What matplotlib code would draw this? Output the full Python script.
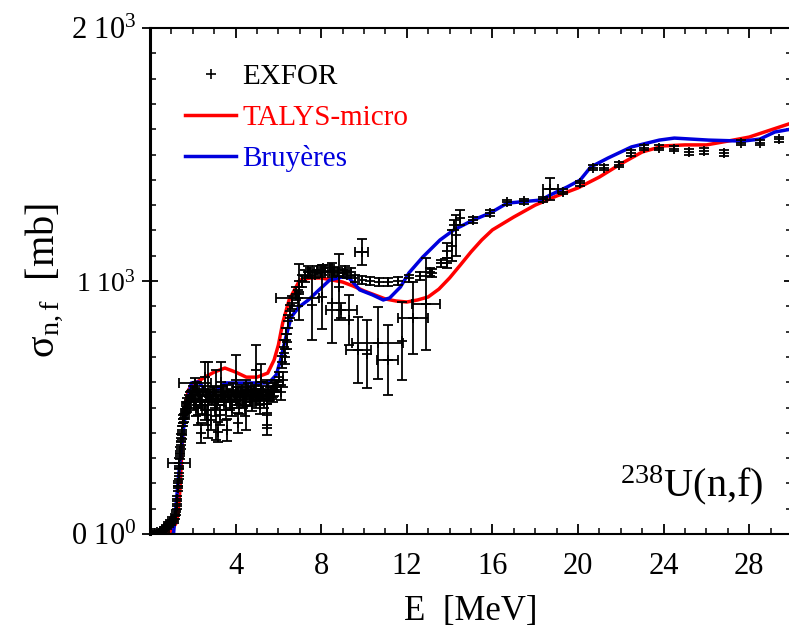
import matplotlib
matplotlib.use('Agg')
import matplotlib.pyplot as plt
from matplotlib.ticker import MultipleLocator, FixedLocator, FuncFormatter
from matplotlib.lines import Line2D

# TALYS-micro calculation
talys_e = [0.9, 1.2, 1.3, 1.4, 1.5, 1.6, 1.8, 2.0, 2.5, 3.0, 3.5, 4.0, 4.5, 5.0, 5.5, 5.8,
           6.0, 6.2, 6.5, 7.0, 7.5, 8.0, 8.5, 9.0, 9.5, 10, 10.5, 11, 11.5, 12, 12.5, 13,
           13.5, 14, 14.5, 15, 15.5, 16, 17, 18, 19, 20, 21, 22, 23, 24, 25, 26, 27, 28, 29, 30]
talys_s = [5, 40, 75, 175, 350, 490, 570, 590, 617, 640, 656, 640, 620, 620, 636, 688,
           747, 834, 925, 1004, 1012, 1012, 1004, 996, 980, 961, 945, 929, 921, 917, 925, 937,
           968, 1012, 1063, 1115, 1162, 1202, 1253, 1300, 1336, 1368, 1411, 1463, 1510, 1534,
           1538, 1538, 1553, 1569, 1597, 1625]

# Bruyeres evaluation
bruy_e = [1.1, 1.32, 1.5, 1.7, 1.93, 2.26, 2.6, 2.8, 3.06, 3.5, 4.14, 5.55, 5.9, 6.1, 6.35, 6.6,
          6.96, 7.4, 7.9, 8.4, 9.0, 9.3, 9.8, 10.4, 10.9, 11.2, 11.7, 12.1, 12.75, 13.55, 14.2, 15.1,
          15.9, 16.7, 18.26, 18.7, 19.5, 20.1, 20.6, 21.4, 22.5, 23.8, 24.5, 26.1, 27.7, 28.5, 29.2, 30]
bruy_s = [0, 213, 372, 502, 597, 601, 569, 542, 561, 597, 597, 597, 629, 688, 779, 858,
          897, 925, 965, 1004, 1016, 1012, 965, 945, 925, 933, 976, 1032, 1095, 1162, 1202, 1241,
          1269, 1308, 1320, 1340, 1372, 1399, 1451, 1486, 1530, 1557, 1565, 1557, 1553, 1561, 1589, 1601]

# EXFOR points with vertical error bars only: energy, sigma, d_sigma
exp_e = [0.10, 0.18, 0.25, 0.32, 0.40, 0.45, 0.50, 0.55, 0.60, 0.65, 0.70, 0.75, 0.80, 0.85,
         0.90, 0.95, 1.00, 1.05, 1.10, 1.15, 1.20, 1.25,
         1.28, 1.31, 1.34, 1.37, 1.40, 1.43, 1.46, 1.50, 1.54, 1.58, 1.62, 1.66, 1.70, 1.75,
         1.80, 1.85, 1.90, 1.95, 1.33, 1.41, 1.48, 1.56, 1.64, 1.72,
         2.00, 2.05, 2.10, 2.15, 2.20, 2.25, 2.30, 2.35, 2.40, 2.45, 2.50, 2.55, 2.60, 2.65,
         2.70, 2.75, 2.80, 2.85, 2.90, 2.95, 3.00, 3.05, 3.10, 3.15, 3.20, 3.25, 3.30, 3.35,
         3.40, 3.45, 3.50, 3.55, 3.60, 3.65, 3.70, 3.75, 3.80, 3.85, 3.90, 3.95, 4.00, 4.05,
         4.10, 4.15, 4.20, 4.25, 4.30, 4.35, 4.40, 4.45, 4.50, 4.55, 4.60, 4.65, 4.70, 4.75,
         4.80, 4.85, 4.90, 4.95, 5.00, 5.05, 5.10, 5.15, 5.20, 5.25, 5.30, 5.35, 5.40, 5.45,
         5.50, 5.55, 5.60, 5.65, 5.70, 5.75, 5.80, 5.85, 5.90,
         2.70, 3.10, 4.00, 4.47, 4.94, 5.46, 2.40, 3.20, 3.60, 4.10, 5.46, 2.55, 3.30, 5.20,
         5.95, 6.05, 6.15, 6.25, 6.35, 6.45, 6.55, 6.65, 6.80, 6.95, 7.10, 7.25, 7.40,
         6.10, 6.20, 6.30, 6.40,
         7.50, 7.70, 7.80, 8.00, 8.10, 8.20, 8.40, 8.50, 8.60, 8.80, 9.00, 9.10, 9.20, 9.40,
         9.60, 9.90, 10.3, 10.7, 11.1, 11.6, 12.1, 12.6, 13.1, 13.6,
         6.96, 7.58, 8.05, 8.52, 8.85, 9.32, 10.16, 11.76,
         13.2, 13.9, 13.9, 14.1, 14.2, 14.3, 14.5, 15.1, 15.9, 16.7, 17.5, 18.35, 19.3, 20.1,
         20.7, 21.2, 21.9, 22.5, 23.1, 23.8, 24.5, 25.2, 25.9, 26.8, 27.6, 28.5, 29.4]
exp_s = [2, 4, 3, 6, 5, 9, 12, 8, 16, 22, 14, 30, 26, 40,
         35, 48, 44, 58, 52, 70, 85, 110,
         140, 180, 230, 270, 310, 350, 380, 410, 440, 460, 480, 495, 505, 520,
         530, 540, 545, 550, 200, 330, 390, 455, 470, 500,
         560, 520, 540, 500, 575, 470, 550, 530, 530, 510, 565, 490, 545, 470,
         520, 540, 550, 450, 535, 560, 560, 500, 545, 520, 530, 470, 555, 540,
         560, 520, 540, 490, 565, 545, 550, 520, 545, 500, 570, 540, 555, 530,
         560, 510, 540, 560, 565, 530, 555, 505, 545, 560, 570, 535, 560, 520,
         550, 565, 565, 530, 555, 540, 545, 510, 575, 550, 560, 530, 550, 515,
         570, 545, 555, 560, 560, 540, 570, 580, 585,
         530, 510, 609, 510, 648, 514, 400, 403, 411, 439, 431, 620, 600, 600,
         590, 620, 680, 740, 790, 840, 880, 915, 950, 975, 1000, 1020, 1035,
         560, 610, 700, 760,
         1036, 1025, 1045, 1030, 1050, 1040, 1050, 1030, 1040, 1035, 1030, 1045, 1025, 1035,
         1010, 1005, 1000, 995, 995, 1000, 1010, 1020, 1035, 1070,
         957, 905, 937, 913, 976, 846, 711, 763,
         1032, 1071, 1120, 1140, 1220, 1180, 1250, 1241, 1269, 1312, 1316, 1324, 1352, 1387,
         1447, 1447, 1459, 1506, 1526, 1526, 1522, 1510, 1514, 1506, 1546, 1546, 1561]
exp_ds = [3, 3, 3, 4, 4, 4, 5, 5, 5, 6, 6, 6, 6, 7,
          7, 7, 8, 8, 8, 9, 9, 10,
          10, 10, 12, 12, 12, 14, 14, 15, 15, 16, 16, 18, 18, 18,
          20, 20, 20, 20, 10, 12, 15, 15, 16, 18,
          25, 30, 20, 35, 25, 40, 20, 30, 25, 35, 20, 40, 25, 40,
          30, 20, 25, 40, 20, 25, 20, 35, 25, 30, 20, 40, 25, 20,
          25, 30, 20, 40, 25, 20, 25, 30, 20, 35, 25, 20, 25, 30,
          20, 35, 25, 20, 25, 30, 20, 40, 25, 20, 25, 30, 20, 35,
          25, 20, 25, 30, 20, 25, 20, 35, 25, 20, 25, 30, 20, 35,
          25, 20, 25, 20, 25, 20, 25, 20, 25,
          150, 138, 99, 99, 99, 95, 40, 40, 45, 40, 40, 60, 80, 70,
          20, 20, 25, 25, 25, 25, 25, 25, 25, 25, 25, 25, 25,
          30, 30, 30, 30,
          15, 15, 15, 15, 15, 15, 15, 15, 15, 15, 15, 15, 15, 15,
          15, 15, 15, 15, 15, 15, 15, 15, 15, 15,
          111, 138, 126, 158, 130, 100, 134, 154,
          15, 20, 30, 60, 20, 80, 30, 12, 12, 10, 10, 10, 10, 10,
          10, 10, 10, 10, 10, 10, 10, 10, 10, 10, 10, 10, 10]

# EXFOR points with both energy and cross-section error bars
exh_e = [1.36, 2.10, 6.90, 8.94, 9.74, 9.90, 10.64, 11.10, 12.30, 12.90, 18.70]
exh_s = [281, 597, 933, 885, 727, 1115, 755, 688, 854, 909, 1364]
exh_ds = [20, 20, 30, 30, 132, 50, 142, 138, 142, 182, 43]
exh_de = [0.5, 0.75, 1.0, 0.73, 0.6, 0.3, 1.2, 0.5, 0.7, 0.65, 0.35]

plt.rcParams['font.family'] = 'Liberation Serif'
plt.rcParams['mathtext.fontset'] = 'custom'
plt.rcParams['mathtext.rm'] = 'Liberation Serif'
plt.rcParams['mathtext.it'] = 'Liberation Serif:italic'
plt.rcParams['mathtext.default'] = 'regular'

fig = plt.figure(figsize=(7.89, 6.37), dpi=100)
ax = fig.add_axes([0.1901, 0.1617, 0.8137, 0.7943])

ax.plot(talys_e, talys_s, color='#ff0000', lw=2.5, zorder=2)
ax.plot(bruy_e, bruy_s, color='#0000dd', lw=2.5, zorder=2)

ax.errorbar(exp_e, exp_s, yerr=exp_ds, fmt='+', color='k', ms=7, mew=1.3,
            elinewidth=1.3, capsize=3.5, capthick=1.3, zorder=3)
ax.errorbar(exh_e, exh_s, yerr=exh_ds, xerr=exh_de, fmt='+', color='k', ms=7, mew=1.3,
            elinewidth=1.3, capsize=3.5, capthick=1.3, zorder=3)

ax.set_xlim(0, 30)
ax.set_ylim(0, 2000)

ax.xaxis.set_major_locator(MultipleLocator(4))
ax.xaxis.set_minor_locator(MultipleLocator(1))
ax.xaxis.set_major_formatter(FuncFormatter(lambda v, _: '' if v == 0 else f'{v:.0f}'))
ax.yaxis.set_major_locator(FixedLocator([0, 1000, 2000]))
ax.yaxis.set_minor_locator(MultipleLocator(100))
ax.set_yticklabels([r'0 10$^{0}$', r'1 10$^{3}$', r'2 10$^{3}$'])

ax.tick_params(which='both', direction='in', top=True, right=True)
ax.tick_params(axis='x', which='major', length=7, width=1.3, labelsize=22, pad=13)
ax.tick_params(axis='x', which='minor', length=4, width=1.1)
ax.tick_params(axis='y', which='major', direction='inout', length=12, width=1.3,
               labelsize=22, pad=4)
ax.tick_params(axis='y', which='minor', length=4, width=1.1)
ax.get_yticklabels()[1].set_fontsize(20)

for side in ['left', 'bottom', 'top', 'right']:
    ax.spines[side].set_linewidth(1.5)
ax.spines['left'].set_linewidth(2.2)

ax.set_xlabel('E  [MeV]', fontsize=25, labelpad=10)
ax.set_ylabel(r'$\sigma_{n,f}$  [mb]', fontsize=29, labelpad=4)

handles = [Line2D([], [], ls='none', marker='+', color='k', ms=7, mew=1.2),
           Line2D([], [], color='#ff0000', lw=2.5),
           Line2D([], [], color='#0000dd', lw=2.5)]
leg = ax.legend(handles, ['EXFOR', 'TALYS-micro', 'Bruyères'], loc='upper left',
                bbox_to_anchor=(0.055, 0.93), frameon=False, fontsize=21,
                handlelength=1.75, handletextpad=0.2, labelspacing=0.5,
                borderpad=0, borderaxespad=0)
for txt, col in zip(leg.get_texts(), ['black', '#ff0000', '#0000dd']):
    txt.set_color(col)

ax.text(0.955, 0.075, r'$^{238}$U(n,f)', transform=ax.transAxes, ha='right',
        va='baseline', fontsize=29)

fig.savefig('out.png', dpi=100)
